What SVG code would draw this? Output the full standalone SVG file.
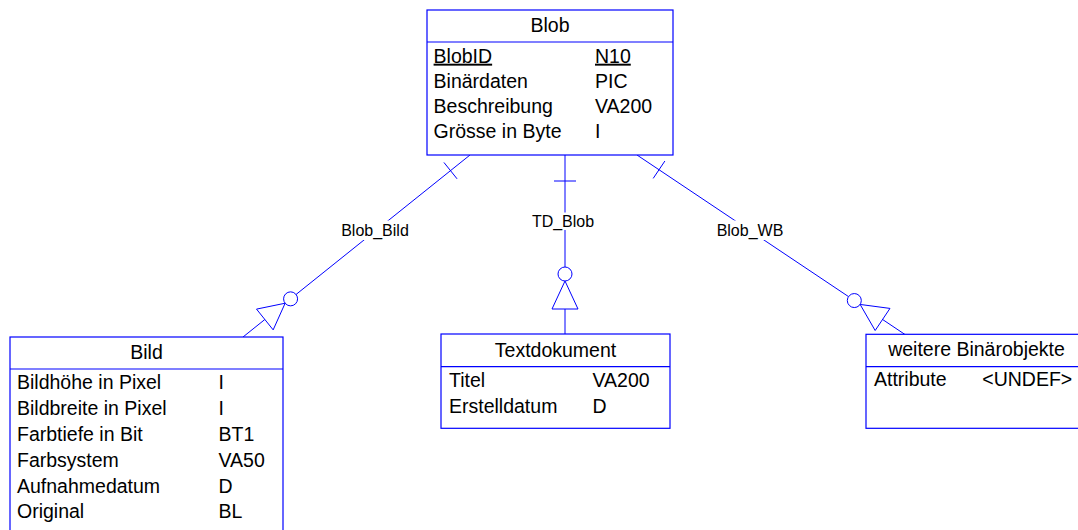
<svg xmlns="http://www.w3.org/2000/svg" width="1078" height="530" viewBox="0 0 1078 530">
  <style>
    .box { fill: #ffffff; stroke: #0000ff; stroke-width: 1.2; }
    .div { stroke: #0000ff; stroke-width: 1.2; }
    .ln { stroke: #0000ff; stroke-width: 1; fill: none; }
    .sym { stroke: #0000ff; stroke-width: 1; fill: #ffffff; }
    .t { font-family: "Liberation Sans", Arial, sans-serif; font-size: 19.5px; fill: #000000; }
    .hd { text-anchor: middle; }
    .u { text-decoration: underline; }
    .lbl { font-family: "Liberation Sans", Arial, sans-serif; font-size: 16px; fill: #000000; text-anchor: middle; }
    .lblbg { fill: #ffffff; stroke: none; }
  </style>

  <rect width="1078" height="530" fill="#ffffff"/>

  <!-- relationships -->
  <g id="connectors">
    <!-- Blob_Bild -->
    <g id="rel-blob-bild">
      <line class="ln" x1="470" y1="155" x2="296.05" y2="294.47"/>
      <line class="ln" x1="443.93" y1="162.45" x2="457.07" y2="178.83"/>
      <circle class="sym" cx="290.59" cy="298.85" r="7"/>
      <polygon class="sym" points="285.13,303.22 273.17,329.87 256.53,309.11"/>
      <line class="ln" x1="264.85" y1="319.49" x2="243" y2="337"/>
      <rect class="lblbg" x="340" y="220.5" width="70" height="19.5"/>
      <text class="lbl" x="375" y="235.5">Blob_Bild</text>
    </g>
    <!-- TD_Blob -->
    <g id="rel-td-blob">
      <line class="ln" x1="565" y1="155" x2="565" y2="267"/>
      <line class="ln" x1="554" y1="181" x2="576" y2="181"/>
      <circle class="sym" cx="565" cy="274" r="7"/>
      <polygon class="sym" points="565,281 578,309 552,309"/>
      <line class="ln" x1="565" y1="309" x2="565" y2="334"/>
      <rect class="lblbg" x="530" y="212.5" width="66" height="17.5"/>
      <text class="lbl" x="563" y="226.7">TD_Blob</text>
    </g>
    <!-- Blob_WB -->
    <g id="rel-blob-wb">
      <line class="ln" x1="637" y1="155" x2="848.5" y2="296.6"/>
      <line class="ln" x1="653.2" y1="178.4" x2="664.9" y2="161"/>
      <circle class="sym" cx="854.31" cy="300.55" r="7"/>
      <polygon class="sym" points="860.13,304.45 889.97,308.42 875.17,330.52"/>
      <line class="ln" x1="882.57" y1="319.47" x2="905" y2="334.5"/>
      <rect class="lblbg" x="715" y="220.5" width="70" height="19.5"/>
      <text class="lbl" x="750" y="235.7">Blob_WB</text>
    </g>
  </g>

  <!-- entity Blob -->
  <g id="blob">
    <rect class="box" x="427" y="10" width="246" height="145"/>
    <line class="div" x1="427" y1="42" x2="673" y2="42"/>
    <text class="t hd" x="550" y="32">Blob</text>
    <text class="t u" x="433.6" y="62.7">BlobID</text>
    <text class="t u" x="595" y="62.7">N10</text>
    <text class="t" x="433.6" y="87.9">Binärdaten</text>
    <text class="t" x="595" y="87.9">PIC</text>
    <text class="t" x="433.6" y="113.1">Beschreibung</text>
    <text class="t" x="595" y="113.1">VA200</text>
    <text class="t" x="433.6" y="138.3">Grösse in Byte</text>
    <text class="t" x="595" y="138.3">I</text>
  </g>

  <!-- entity Bild -->
  <g id="bild">
    <rect class="box" x="10" y="337" width="273" height="210"/>
    <line class="div" x1="10" y1="369" x2="283" y2="369"/>
    <text class="t hd" x="146.5" y="358.5">Bild</text>
    <text class="t" x="17" y="389.3">Bildhöhe in Pixel</text>
    <text class="t" x="218.5" y="389.3">I</text>
    <text class="t" x="17" y="415.1">Bildbreite in Pixel</text>
    <text class="t" x="218.5" y="415.1">I</text>
    <text class="t" x="17" y="440.9">Farbtiefe in Bit</text>
    <text class="t" x="218.5" y="440.9">BT1</text>
    <text class="t" x="17" y="466.7">Farbsystem</text>
    <text class="t" x="218.5" y="466.7">VA50</text>
    <text class="t" x="17" y="492.5">Aufnahmedatum</text>
    <text class="t" x="218.5" y="492.5">D</text>
    <text class="t" x="17" y="518.3">Original</text>
    <text class="t" x="218.5" y="518.3">BL</text>
  </g>

  <!-- entity Textdokument -->
  <g id="textdokument">
    <rect class="box" x="441" y="334" width="229" height="94.3"/>
    <line class="div" x1="441" y1="366.7" x2="670" y2="366.7"/>
    <text class="t hd" x="555.5" y="356.7">Textdokument</text>
    <text class="t" x="449" y="386.7">Titel</text>
    <text class="t" x="592.5" y="386.7">VA200</text>
    <text class="t" x="449" y="413">Erstelldatum</text>
    <text class="t" x="592.5" y="413">D</text>
  </g>

  <!-- entity weitere Binärobjekte -->
  <g id="weitere-binaerobjekte">
    <rect class="box" x="866" y="334.3" width="221" height="94"/>
    <line class="div" x1="866" y1="366.7" x2="1087" y2="366.7"/>
    <text class="t hd" x="976.5" y="356">weitere Binärobjekte</text>
    <text class="t" x="874" y="386">Attribute</text>
    <text class="t" x="982.3" y="386">&lt;UNDEF&gt;</text>
  </g>
</svg>
